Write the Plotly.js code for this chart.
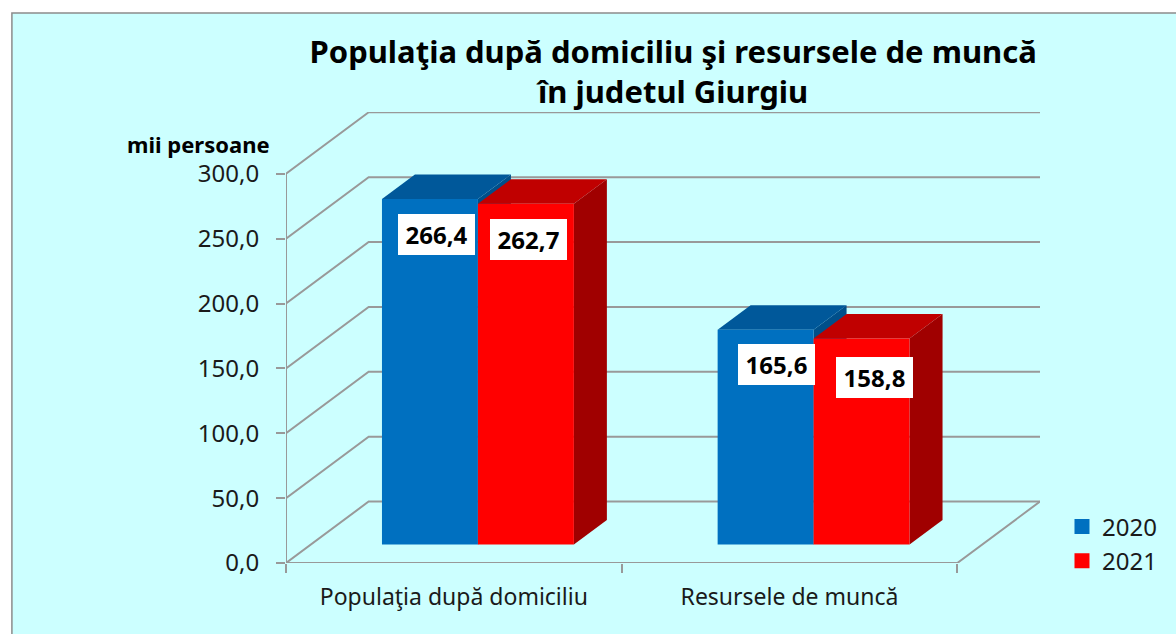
<!DOCTYPE html>
<html>
<head>
<meta charset="utf-8">
<script src="https://cdn.plot.ly/plotly-3.0.1.min.js"></script>
<style>html,body{margin:0;padding:0;background:#fff;overflow:hidden}</style>
</head>
<body>
<div id="chart" style="width:1176px;height:634px"></div>
<script>
// ---- data ----
const categories = ['Populaţia după domiciliu', 'Resursele de muncă'];
const values2020 = [266.4, 165.6];
const values2021 = [262.7, 158.8];
const seriesNames = ['2020', '2021'];
const yTicks = [0, 50, 100, 150, 200, 250, 300];
const titleLines = ['Populaţia după domiciliu şi resursele de muncă', 'în judetul Giurgiu'];
const unitLabel = 'mii persoane';

// ---- geometry of the pseudo-3D box (pixels on the page) ----
const W = 1176, H = 634;
const L = 285.7, B = 562.7, R = 1040, T = 111.5;   // plot rectangle
const xUnit = (957.3 - 285.7) / 2;                 // px per category
const yUnit = (562.7 - 173.3) / 300;               // px per thousand
const wallDx = (R - 957.3) / xUnit, wallDy = 61.5 / yUnit;  // wall depth, in data units
const barDx = 33 / xUnit, barDy = 24.5 / yUnit;    // bar depth, in data units
const barW = 96 / xUnit, barStart = 0.2859, floorBase = 18.4 / yUnit;
const xMax = (R - L) / xUnit, yMax = (B - T) / yUnit;

const GRID = '#999999';
const colors = {front: ['#0070C0', '#FF0000'], top: ['#00589A', '#C00000'], side: ['#004F8A', '#A00000']};
const seriesVals = [values2020, values2021];

const px = x => (x - L) / (R - L), py = y => (B - y) / (B - T);
const poly = (pts, fill) => ({type: 'path', layer: 'below', xref: 'x', yref: 'y', fillcolor: fill,
  line: {width: 0}, path: 'M' + pts.map(p => p[0] + ',' + p[1]).join('L') + 'Z'});
const seg = (pts) => ({type: 'path', layer: 'below', xref: 'x', yref: 'y',
  line: {color: GRID, width: 2}, path: 'M' + pts.map(p => p[0] + ',' + p[1]).join('L')});

const shapes = [];
// panel behind everything (runs off the right and bottom of the page)
shapes.push({type: 'rect', layer: 'below', xref: 'paper', yref: 'paper',
  x0: px(11.5), x1: px(W + 10), y0: py(H + 10), y1: py(12.5),
  fillcolor: '#CCFFFF', line: {color: '#8C8C8C', width: 1.5}});
// walls and floor
yTicks.forEach(v => shapes.push(seg([[0, v], [wallDx, v + wallDy], [xMax, v + wallDy]])));
shapes.push(seg([[0, 0], [0, 300]]));
shapes.push(seg([[0, 0], [2, 0], [xMax, wallDy]]));
// bar top and side faces, computed from the values, back to front
const barX = (s, c) => c + barStart + s * barW;
seriesVals.forEach((vals, s) => vals.forEach((v, c) => {
  const x0 = barX(s, c), x1 = x0 + barW, y0 = floorBase, y1 = floorBase + v;
  shapes.push(poly([[x1, y0], [x1 + barDx, y0 + barDy], [x1 + barDx, y1 + barDy], [x1, y1]], colors.side[s]));
  shapes.push(poly([[x0, y1], [x0 + barDx, y1 + barDy], [x1 + barDx, y1 + barDy], [x1, y1]], colors.top[s]));
}));

// labels: white boxes on the bars
const labelShift = [[[6.7, -36], [11, -35.2]], [[2.2, -36], [12.7, -39.4]]];
const annotations = [];
seriesVals.forEach((vals, s) => vals.forEach((v, c) => annotations.push({
  x: barX(s, c) + barW / 2, y: floorBase + v, xref: 'x', yref: 'y',
  xshift: labelShift[s][c][0], yshift: labelShift[s][c][1],
  text: '<b>' + v.toFixed(1).replace('.', ',') + '</b>', showarrow: false,
  xanchor: 'center', yanchor: 'middle', width: 77, height: 41, align: 'center', valign: 'middle',
  bgcolor: '#FFFFFF', borderpad: 0, borderwidth: 0,
  font: {family: 'Noto Sans', size: 24, color: '#000'}
})));
annotations.push({xref: 'paper', yref: 'paper', x: px(198), y: py(144), text: '<b>' + unitLabel + '</b>',
  showarrow: false, xanchor: 'center', yanchor: 'middle', font: {family: 'Noto Sans', size: 22, color: '#000'}});

const barTraces = seriesVals.map((vals, s) => ({
  type: 'bar', name: seriesNames[s], showlegend: false,
  x: vals.map((v, c) => barX(s, c) + barW / 2),
  y: vals, base: floorBase, width: barW,
  marker: {color: colors.front[s], line: {width: 0}},
  hoverinfo: 'name+y'
}));
// legend keys with the reference's larger square swatches
const legendTraces = seriesNames.map((name, s) => ({
  type: 'scatter', mode: 'markers', name, legendgroup: name,
  x: [null], y: [null],
  marker: {symbol: 'square', size: 15, color: colors.front[s]}
}));

const layout = {
  width: W, height: H, autosize: false,
  margin: {l: L, r: W - R, t: T, b: H - B, pad: 0},
  paper_bgcolor: '#FFFFFF', plot_bgcolor: 'rgba(0,0,0,0)',
  separators: ',.',
  barmode: 'overlay',
  title: {text: '<b>' + titleLines.join('<br>') + '</b>', xref: 'paper', x: px(673), xanchor: 'center',
    yref: 'container', y: 1 - 63 / H, yanchor: 'top', font: {family: 'Noto Sans', size: 31, color: '#000'}},
  xaxis: {range: [0, xMax], showgrid: false, zeroline: false, showline: false, fixedrange: true,
    tickmode: 'array', tickvals: [0.5, 1.5], ticktext: categories, ticks: '',
    ticklabelstandoff: 18,
    tickfont: {family: 'Noto Sans', size: 23, color: '#1a1a1a'},
    minor: {tickmode: 'array', tickvals: [0, 1, 2], ticks: 'outside', ticklen: 9, tickwidth: 2, tickcolor: GRID, showgrid: false}},
  yaxis: {range: [0, yMax], showgrid: false, zeroline: false, showline: false, fixedrange: true,
    tickmode: 'array', tickvals: yTicks, tickformat: '.1f',
    ticks: 'outside', ticklen: 9, tickwidth: 2, tickcolor: GRID,
    ticklabelstandoff: 12,
    tickfont: {family: 'Noto Sans', size: 24, color: '#1a1a1a'}},
  legend: {xref: 'paper', yref: 'paper', x: px(1062), y: py(504), xanchor: 'left', yanchor: 'top',
    orientation: 'v', bgcolor: 'rgba(0,0,0,0)', traceorder: 'normal', tracegroupgap: 4,
    font: {family: 'Noto Sans', size: 24, color: '#1a1a1a'}},
  shapes, annotations, showlegend: true
};

Plotly.newPlot('chart', barTraces.concat(legendTraces), layout, {displayModeBar: false, staticPlot: true});
</script>
</body>
</html>
